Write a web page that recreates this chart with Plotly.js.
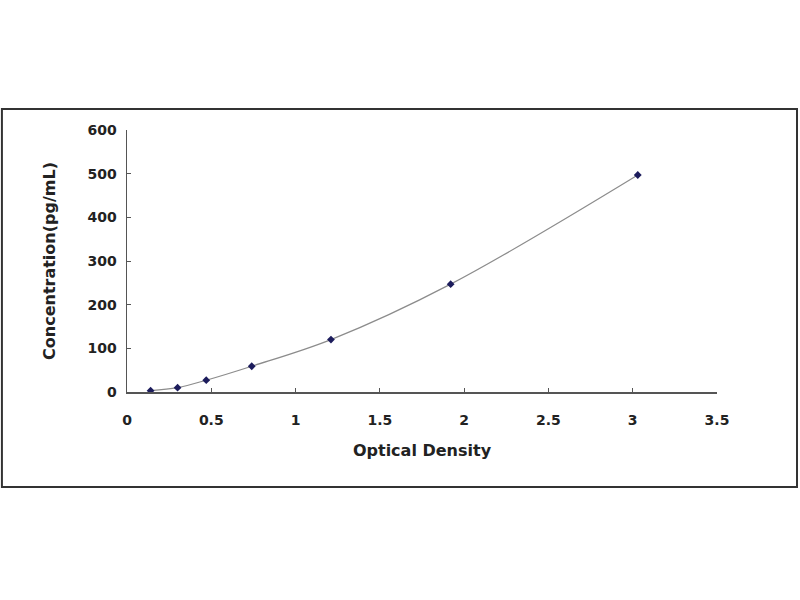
<!DOCTYPE html>
<html>
<head>
<meta charset="utf-8">
<script src="https://cdn.plot.ly/plotly-3.0.1.min.js"></script>
<style>
  html, body { margin: 0; padding: 0; background: #fff; }
  #chart { width: 800px; height: 600px; }
</style>
</head>
<body>
<div id="chart"></div>
<script>
// standard curve: optical density vs concentration
const od = [0.14, 0.30, 0.47, 0.74, 1.21, 1.92, 3.03];
const conc = [3, 10, 27, 59, 120, 247, 497];

const xTicks = [0, 0.5, 1, 1.5, 2, 2.5, 3, 3.5];
const xTickText = ["0", "0.5", "1", "1.5", "2", "2.5", "3", "3.5"];
const yTicks = [0, 100, 200, 300, 400, 500, 600];

const font = "DejaVu Sans, Arial, sans-serif";

const trace = {
  x: od,
  y: conc,
  type: "scatter",
  mode: "lines+markers",
  line: {color: "#8c8c8c", width: 1.2, shape: "spline", smoothing: 1},
  marker: {symbol: "diamond", size: 6, color: "#1c1c5c"},
  hoverinfo: "skip"
};

const layout = {
  width: 800,
  height: 600,
  paper_bgcolor: "#fff",
  plot_bgcolor: "#fff",
  showlegend: false,
  margin: {l: 127, r: 83, t: 130, b: 208},
  font: {family: font, color: "#222"},
  xaxis: {
    range: [0, 3.5],
    tickvals: xTicks,
    ticktext: xTickText,
    showgrid: false,
    zeroline: false,
    showline: true,
    linecolor: "#555",
    linewidth: 1.5,
    ticks: "inside",
    ticklen: 4,
    tickcolor: "#555",
    ticklabelstandoff: 15,
    tickfont: {family: font, size: 14, color: "#222", weight: "bold"},
    title: {
      text: "<b>Optical Density</b>",
      font: {family: font, size: 16, color: "#222"},
      standoff: 17
    },
    automargin: false
  },
  yaxis: {
    range: [0, 600],
    tickvals: yTicks,
    showgrid: false,
    zeroline: false,
    showline: true,
    linecolor: "#555",
    linewidth: 1.5,
    ticks: "inside",
    ticklen: 4,
    tickcolor: "#555",
    ticklabelstandoff: 6,
    tickfont: {family: font, size: 14, color: "#222", weight: "bold"},
    title: {
      text: "<b>Concentration(pg/mL)</b>",
      font: {family: font, size: 16, color: "#222"},
      standoff: 28
    },
    automargin: false
  },
  shapes: [
    {
      type: "rect",
      xref: "paper", yref: "paper",
      x0: -0.212, x1: 1.1356,
      y0: -0.3626, y1: 1.080,
      line: {color: "#333", width: 2},
      fillcolor: "rgba(0,0,0,0)"
    }
  ]
};

Plotly.newPlot("chart", [trace], layout, {displayModeBar: false, staticPlot: true});
</script>
</body>
</html>
